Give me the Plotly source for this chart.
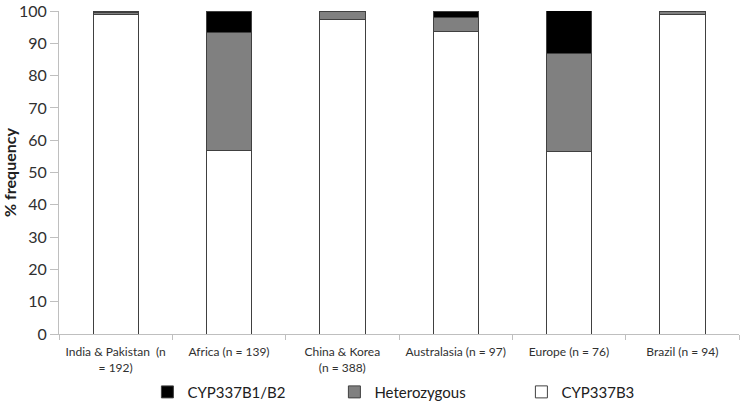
import plotly.graph_objects as go

categories = ["India & Pakistan  (n<br>= 192)", "Africa (n = 139)", "China & Korea<br>(n = 388)",
              "Australasia (n = 97)", "Europe (n = 76)", "Brazil (n = 94)"]
cyp337b3 = [98.96, 56.8, 97.4, 93.8, 56.6, 98.9]
heterozygous = [0.52, 36.7, 2.6, 4.1, 30.3, 1.1]
cyp337b1_b2 = [0.52, 6.5, 0.0, 2.1, 13.2, 0.0]
yticks = [0, 10, 20, 30, 40, 50, 60, 70, 80, 90, 100]

FONT = "Lato"
line = dict(color="#404040", width=1)

fig = go.Figure()
fig.add_trace(go.Bar(name="CYP337B3", x=categories, y=cyp337b3,
                     marker=dict(color="#ffffff", line=line)))
fig.add_trace(go.Bar(name="Heterozygous", x=categories, y=heterozygous,
                     marker=dict(color="#808080", line=line)))
fig.add_trace(go.Bar(name="CYP337B1/B2", x=categories, y=cyp337b1_b2,
                     marker=dict(color="#000000", line=line)))

fig.update_layout(
    width=740, height=402,
    barmode="stack", bargap=0.6,
    plot_bgcolor="white", paper_bgcolor="white",
    margin=dict(l=59, r=1, t=11, b=68, autoexpand=False),
    font=dict(family=FONT, color="#404040"),
    showlegend=True,
    legend=dict(orientation="h", traceorder="reversed",
                x=0.13, xanchor="left", y=-0.18, yanchor="middle",
                font=dict(size=15, color="#202020", family=FONT),
                entrywidth=142, entrywidthmode="pixels",
                itemwidth=30, bgcolor="rgba(0,0,0,0)"),
)
fig.update_xaxes(showline=True, linecolor="#bfbfbf", linewidth=1,
                 tickson="boundaries", ticks="outside", ticklen=5, tickcolor="#bfbfbf",
                 tickangle=0, ticklabelstandoff=7,
                 tickfont=dict(size=12, color="#303030", family=FONT),
                 showgrid=False)
fig.update_yaxes(range=[0, 100], tickvals=yticks, showline=True, linecolor="#bfbfbf", linewidth=1,
                 ticks="outside", ticklen=8, tickcolor="#bfbfbf", ticklabeloverflow="allow",
                 tickfont=dict(size=16, color="#303030", family=FONT),
                 showgrid=False, zeroline=False,
                 title=dict(text="<b>% frequency</b>", font=dict(size=16, color="#202020", family=FONT),
                            standoff=4))

fig.write_html("out.html", config={"displayModeBar": False},
               post_script="document.body.style.margin='0';document.body.style.overflow='hidden';")
